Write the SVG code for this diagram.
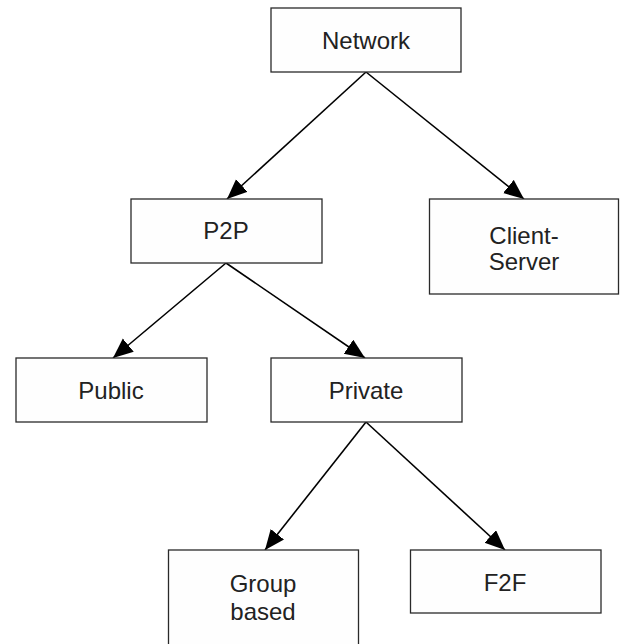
<svg xmlns="http://www.w3.org/2000/svg" width="621" height="644" viewBox="0 0 621 644">
  <style>
    .box { fill: #fefefe; stroke: #2a2a2a; stroke-width: 1.3; }
    .label { font-family: "Liberation Sans", Arial, sans-serif; font-size: 24px; fill: #222; text-anchor: middle; }
    .edge { stroke: #000; stroke-width: 1.6; fill: none; marker-end: url(#arrow); }
  </style>
  <defs>
    <marker id="arrow" markerUnits="userSpaceOnUse" markerWidth="21" markerHeight="18" refX="20" refY="8.5" orient="auto">
      <path d="M0,0 L20,8.5 L0,17 z" fill="#000"/>
    </marker>
  </defs>
  <rect width="621" height="644" fill="#fff"/>

  <g id="connectors">
    <line class="edge" x1="366" y1="72" x2="227" y2="199"/>
    <line class="edge" x1="366" y1="72" x2="524" y2="199"/>
    <line class="edge" x1="226" y1="263" x2="113" y2="358"/>
    <line class="edge" x1="226" y1="263" x2="365" y2="358"/>
    <line class="edge" x1="366" y1="422" x2="265" y2="550"/>
    <line class="edge" x1="366" y1="422" x2="505" y2="550"/>
  </g>

  <g id="network">
    <rect class="box" x="271" y="8" width="190" height="64"/>
    <text class="label" x="366" y="48.5">Network</text>
  </g>

  <g id="p2p">
    <rect class="box" x="131" y="199" width="191" height="64"/>
    <text class="label" x="226" y="239">P2P</text>
  </g>

  <g id="client-server">
    <rect class="box" x="429.5" y="199" width="189" height="95"/>
    <text class="label" x="524" y="244">Client-</text>
    <text class="label" x="524" y="270">Server</text>
  </g>

  <g id="public">
    <rect class="box" x="16" y="358" width="191" height="64"/>
    <text class="label" x="111" y="398.5">Public</text>
  </g>

  <g id="private">
    <rect class="box" x="271" y="358" width="191" height="64"/>
    <text class="label" x="366" y="398.5">Private</text>
  </g>

  <g id="group-based">
    <rect class="box" x="168.5" y="550" width="190" height="100"/>
    <text class="label" x="263" y="592">Group</text>
    <text class="label" x="263" y="620">based</text>
  </g>

  <g id="f2f">
    <rect class="box" x="410.5" y="550" width="190.5" height="63"/>
    <text class="label" x="505" y="591">F2F</text>
  </g>
</svg>
